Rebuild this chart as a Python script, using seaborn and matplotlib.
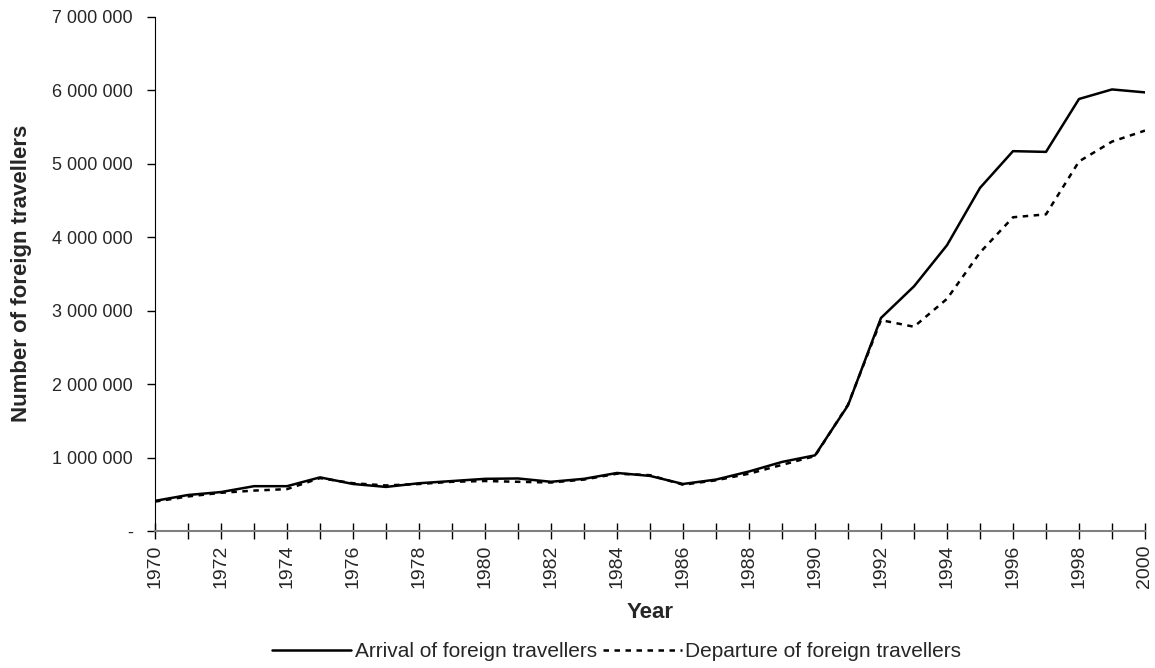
import numpy as np
import pandas as pd
import matplotlib
matplotlib.use("Agg")
import matplotlib.pyplot as plt
from matplotlib.ticker import FuncFormatter
import seaborn as sns

# Data
years = list(range(1970, 2001))
arrival = [410000, 490000, 530000, 610000, 610000, 730000, 640000, 600000,
           650000, 680000, 710000, 715000, 670000, 710000, 790000, 750000,
           640000, 700000, 810000, 940000, 1030000, 1710000, 2900000,
           3330000, 3890000, 4670000, 5170000, 5160000, 5880000, 6010000,
           5970000]
departure = [400000, 470000, 520000, 550000, 570000, 720000, 650000, 620000,
             640000, 670000, 680000, 670000, 660000, 700000, 780000, 760000,
             630000, 690000, 780000, 900000, 1020000, 1720000, 2870000,
             2780000, 3160000, 3790000, 4270000, 4310000, 5030000, 5300000,
             5450000]
series_names = ["Arrival of foreign travellers", "Departure of foreign travellers"]

df = pd.DataFrame({"Year": years, series_names[0]: arrival, series_names[1]: departure})
df_long = df.melt(id_vars="Year", var_name="Series", value_name="Travellers")

sns.set_style("white")
plt.rcParams["font.family"] = ["Liberation Sans", "DejaVu Sans"]

fig = plt.figure(figsize=(11.55, 6.68), dpi=100)
ax = fig.add_axes([155 / 1155, 1 - 531 / 668, 990 / 1155, (531 - 16.7) / 668])

sns.lineplot(
    data=df_long, x="Year", y="Travellers", style="Series",
    dashes={series_names[0]: "", series_names[1]: (2.2, 2.2)},
    color="black", linewidth=1.8, ax=ax, legend=False
)

ax.set_xlim(1970, 2000)
ax.set_ylim(0, 7000000)
ax.set_yticks(np.arange(0, 7000001, 1000000))
ax.yaxis.set_major_formatter(FuncFormatter(
    lambda v, p: "-" if v == 0 else f"{int(v):,}".replace(",", " ")))
ax.set_xticks(years)
ax.set_xticklabels([str(y) if y % 2 == 0 else "" for y in years], rotation=90)

ax.tick_params(axis="x", direction="inout", length=12, width=1, color="black",
               labelsize=14, pad=4, bottom=True)
ax.tick_params(axis="y", direction="out", length=6, width=1, color="black",
               labelsize=13, pad=10, left=True)

for side in ["top", "right"]:
    ax.spines[side].set_visible(False)
ax.spines["left"].set_color("black")
ax.spines["bottom"].set_color("#808080")
ax.spines["bottom"].set_linewidth(1.5)

ax.set_xlabel("Year", fontsize=16, fontweight="bold", labelpad=10)
ax.set_ylabel("Number of foreign travellers", fontsize=16, fontweight="bold", labelpad=14)

handles = [
    plt.Line2D([], [], color="black", linewidth=1.8),
    plt.Line2D([], [], color="black", linewidth=1.8, dashes=(2.2, 2.2)),
]
fig.legend(handles, series_names, loc="center", bbox_to_anchor=(0.534, 0.025),
           ncol=2, frameon=False, fontsize=15, handlelength=3.8,
           handletextpad=0.15, columnspacing=0.3)

fig.savefig("out.png", dpi=100)
